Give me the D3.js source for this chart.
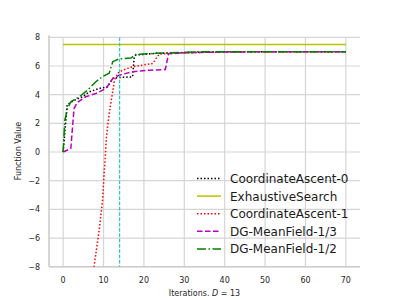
<!DOCTYPE html>
<html>
<head>
<meta charset="utf-8">
<script src="https://cdn.jsdelivr.net/npm/d3@7"></script>
<style>
  body { margin: 0; background: #fff; }
  svg { font-family: "DejaVu Sans", sans-serif; }
</style>
</head>
<body>
<svg id="chart" width="400" height="300"></svg>
<script>
// values
const xTicks = [0, 10, 20, 30, 40, 50, 60, 70];
const yTicks = [-8, -6, -4, -2, 0, 2, 4, 6, 8];
const markerX = 14;

const ca0X = [0, 1, 2.7, 4.8, 6.5, 8.9, 11, 12.3, 13.9, 17.2, 17.6, 18, 23, 28, 35, 45, 70];
const ca0Y = [0, 3.3, 3.6, 3.85, 4.2, 4.43, 4.55, 5.13, 5.2, 5.24, 6.64, 6.76, 6.88, 6.92, 6.97, 7.0, 7.0];

const exX = [0, 70];
const exY = [7.5, 7.5];

const ca1X = [7.3, 7.7, 8.9, 9.75, 10.2, 10.4, 10.7, 11.4, 12.2, 12.7, 13.5, 14.7, 17.2, 19.7, 22.2, 23.2, 23.8, 30, 40, 70];
const ca1Y = [-9, -7.9, -5.5, -3.4, -1.3, -0.5, 1.0, 2.68, 4.08, 5.0, 5.48, 5.71, 5.94, 6.06, 6.18, 6.6, 6.83, 6.92, 6.98, 7.0];

const mf3X = [0, 1.9, 2.7, 3.5, 5.6, 8.1, 10.6, 12.3, 13.9, 17.2, 21.3, 25.3, 26.1, 30.4, 40, 70];
const mf3Y = [0, 0.24, 3.03, 3.45, 3.85, 4.08, 4.43, 5.13, 5.36, 5.6, 5.71, 5.75, 6.85, 6.92, 6.98, 7.0];

const mf2X = [0, 0.4, 1.1, 1.9, 4, 6, 8.1, 9.7, 11.4, 12.3, 13.9, 16.8, 17.9, 23, 33.7, 70];
const mf2Y = [0, 2.2, 3.05, 3.5, 3.85, 4.3, 4.9, 5.25, 5.5, 6.3, 6.5, 6.55, 6.8, 6.88, 6.99, 7.0];

const series = [
  { name: "CoordinateAscent-0", xs: ca0X, ys: ca0Y, color: "#000000", dash: "1.5,2" },
  { name: "ExhaustiveSearch", xs: exX, ys: exY, color: "#bfbf00", dash: null },
  { name: "CoordinateAscent-1", xs: ca1X, ys: ca1Y, color: "#ff0000", dash: "1.5,2" },
  { name: "DG-MeanField-1/3", xs: mf3X, ys: mf3Y, color: "#bf00bf", dash: "5.5,2.5" },
  { name: "DG-MeanField-1/2", xs: mf2X, ys: mf2Y, color: "#008000", dash: "9,2.5,1.5,2.5" }
];

const plotLeft = 49, plotRight = 360, plotTop = 37.3, plotBottom = 266.7;

const svg = d3.select("#chart");

const x = d3.scaleLinear().domain([-3.5, 73.5]).range([plotLeft, plotRight]);
const y = d3.scaleLinear().domain([-8, 8]).range([plotBottom, plotTop]);

// grid
svg.append("g")
  .selectAll("line")
  .data(xTicks)
  .enter()
  .append("line")
  .attr("x1", d => x(d))
  .attr("x2", d => x(d))
  .attr("y1", plotTop)
  .attr("y2", plotBottom)
  .attr("stroke", "#d5d5d5")
  .attr("stroke-width", 1.2);

svg.append("g")
  .selectAll("line")
  .data(yTicks)
  .enter()
  .append("line")
  .attr("x1", plotLeft)
  .attr("x2", plotRight)
  .attr("y1", d => y(d))
  .attr("y2", d => y(d))
  .attr("stroke", "#d5d5d5")
  .attr("stroke-width", 1.2);

// spines
svg.append("line")
  .attr("x1", plotLeft).attr("x2", plotLeft)
  .attr("y1", plotTop - 2).attr("y2", plotBottom)
  .attr("stroke", "#cccccc").attr("stroke-width", 1.6);
svg.append("line")
  .attr("x1", plotLeft).attr("x2", plotRight)
  .attr("y1", plotBottom).attr("y2", plotBottom)
  .attr("stroke", "#cccccc").attr("stroke-width", 1.6);

// tick labels
svg.append("g")
  .selectAll("text")
  .data(xTicks)
  .enter()
  .append("text")
  .attr("x", d => x(d))
  .attr("y", 283)
  .attr("text-anchor", "middle")
  .attr("font-size", "8px")
  .attr("fill", "#262626")
  .text(d => d);

svg.append("g")
  .selectAll("text")
  .data(yTicks)
  .enter()
  .append("text")
  .attr("x", 40)
  .attr("y", d => y(d) + 2.9)
  .attr("text-anchor", "end")
  .attr("font-size", "8px")
  .attr("fill", "#262626")
  .text(d => d < 0 ? "\u2212" + Math.abs(d) : d);

// axis labels
let xl = svg.append("text")
  .attr("x", (plotLeft + plotRight) / 2)
  .attr("y", 296)
  .attr("text-anchor", "middle")
  .attr("font-size", "8px")
  .attr("fill", "#262626");
xl.append("tspan").text("Iterations. ");
xl.append("tspan").attr("font-style", "italic").text("D");
xl.append("tspan").text(" = 13");

svg.append("text")
  .attr("transform", "translate(21," + ((plotTop + plotBottom) / 2 - 1) + ") rotate(-90)")
  .attr("text-anchor", "middle")
  .attr("font-size", "8px")
  .attr("fill", "#262626")
  .text("Function Value");

// lines
svg.append("clipPath").attr("id", "plot")
  .append("rect")
  .attr("x", plotLeft).attr("y", plotTop)
  .attr("width", plotRight - plotLeft).attr("height", plotBottom - plotTop);

let line = d3.line().x(p => x(p[0])).y(p => y(p[1]));

let plot = svg.append("g").attr("clip-path", "url(#plot)");

plot.selectAll("path")
  .data(series)
  .enter()
  .append("path")
  .attr("d", s => line(s.xs.map((v, i) => [v, s.ys[i]])))
  .attr("fill", "none")
  .attr("stroke", s => s.color)
  .attr("stroke-width", 1.5)
  .attr("stroke-dasharray", s => s.dash);

plot.append("line")
  .attr("x1", x(markerX)).attr("x2", x(markerX))
  .attr("y1", plotTop).attr("y2", plotBottom)
  .attr("stroke", "#00c0c0")
  .attr("stroke-width", 1)
  .attr("stroke-dasharray", "3.7,1.6");

// legend
let legend = svg.append("g").attr("transform", "translate(197,178.5)");
let rows = legend.selectAll("g")
  .data(series)
  .enter()
  .append("g")
  .attr("transform", (s, i) => "translate(0," + i * 17.6 + ")");
rows.append("line")
  .attr("x1", 0).attr("x2", 24)
  .attr("stroke", s => s.color)
  .attr("stroke-width", 1.5)
  .attr("stroke-dasharray", s => s.dash);
rows.append("text")
  .attr("x", 33)
  .attr("y", 4.5)
  .attr("font-size", "12px")
  .attr("fill", "#1a1a1a")
  .text(s => s.name);
</script>
</body>
</html>
